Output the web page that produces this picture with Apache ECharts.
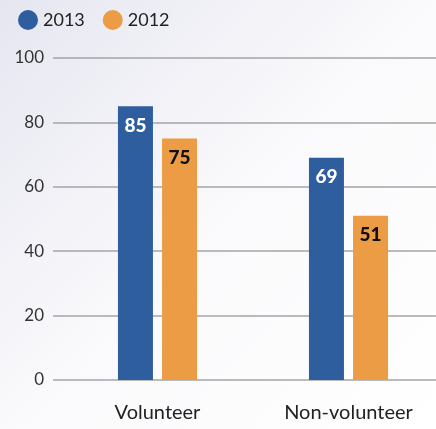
<!DOCTYPE html>
<html><head><meta charset="utf-8">
<script src="https://cdn.jsdelivr.net/npm/echarts@6/dist/echarts.min.js"></script>
<style>html,body{margin:0;padding:0;overflow:hidden;width:436px;height:429px;}#c{width:444px;height:429px;}</style>
</head><body><div id="c"></div>
<script>
const categories = ['Volunteer', 'Non-volunteer'];
const series2013 = [85, 69];
const series2012 = [75, 51];
const yTicks = [0, 20, 40, 60, 80, 100];

const chart = echarts.init(document.getElementById('c'), null, {renderer: 'canvas'});
const font = 'Lato, "Noto Sans", sans-serif';
chart.setOption({
  backgroundColor: new echarts.graphic.LinearGradient(0, 0, 1, 1, [
    {offset: 0, color: '#e6e6f1'},
    {offset: 0.5, color: '#fafafc'},
    {offset: 1, color: '#ffffff'}
  ]),
  animation: false,
  legend: {
    left: 13, top: 5, itemGap: 18, itemWidth: 20, itemHeight: 20, icon: 'circle',
    textStyle: {fontFamily: font, fontSize: 18, color: '#222'},
    data: ['2013', '2012']
  },
  grid: [
    {left: 53, right: 8, top: 58, bottom: 49},
    {left: 62, right: 0, top: 58, bottom: 49}
  ],
  xAxis: [
    {type: 'category', gridIndex: 0, data: categories, show: false},
    {type: 'category', gridIndex: 1, data: categories,
     axisLine: {show: false}, axisTick: {show: false},
     axisLabel: {margin: 23, fontFamily: font, fontSize: 20, color: '#222'}}
  ],
  yAxis: [
    {type: 'value', gridIndex: 0, min: yTicks[0], max: yTicks[yTicks.length - 1], interval: 20,
     axisLine: {show: false}, axisTick: {show: false},
     axisLabel: {margin: 9, fontFamily: font, fontSize: 17, color: '#333'},
     splitLine: {lineStyle: {color: '#a4a4a4', width: 1.5}}},
    {type: 'value', gridIndex: 1, min: 0, max: 100, show: false, splitLine: {show: false}}
  ],
  series: [
    {name: '2013', type: 'bar', xAxisIndex: 1, yAxisIndex: 1, data: series2013,
     barWidth: 35, barGap: '26%', itemStyle: {color: '#2e5e9e'},
     label: {show: true, position: 'insideTop', distance: 10, color: '#fff',
             fontFamily: font, fontWeight: 900, fontSize: 19}},
    {name: '2012', type: 'bar', xAxisIndex: 1, yAxisIndex: 1, data: series2012,
     barWidth: 35, itemStyle: {color: '#eb9c44'},
     label: {show: true, position: 'insideTop', distance: 10, color: '#111',
             fontFamily: font, fontWeight: 900, fontSize: 19}}
  ]
});
</script></body></html>
